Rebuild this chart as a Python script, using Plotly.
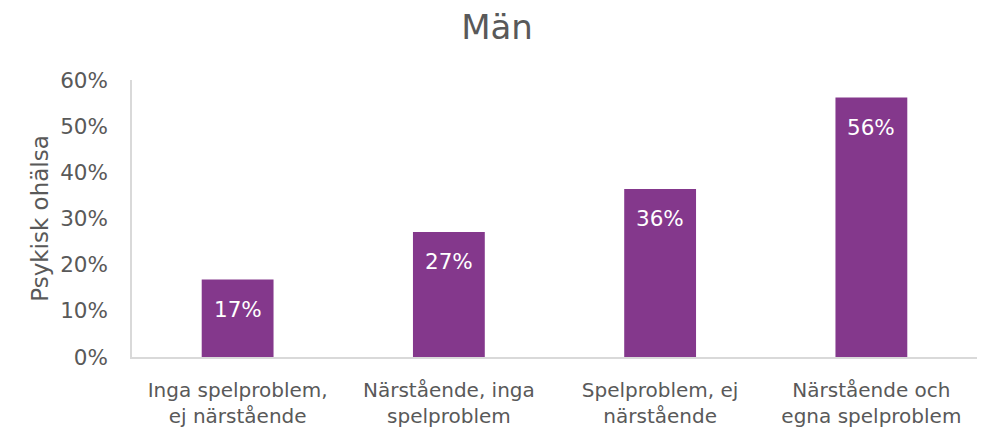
import plotly.graph_objects as go

categories = ["Inga spelproblem,<br>ej närstående", "Närstående, inga<br>spelproblem",
              "Spelproblem, ej<br>närstående", "Närstående och<br>egna spelproblem"]
values = [0.168, 0.271, 0.364, 0.562]
labels = ["17%", "27%", "36%", "56%"]
tick_vals = [0, 0.1, 0.2, 0.3, 0.4, 0.5, 0.6]
tick_text = ["0%", "10%", "20%", "30%", "40%", "50%", "60%"]

font = "DejaVu Sans, Verdana, sans-serif"
grey = "#595959"

fig = go.Figure(go.Bar(
    x=categories, y=values,
    marker=dict(color="#84388C", line=dict(width=0)),
    width=0.34, hoverinfo="skip",
))

for c, v, t in zip(categories, values, labels):
    fig.add_annotation(x=c, y=v, text=t, showarrow=False, yshift=-30,
                       yanchor="middle", xanchor="center",
                       font=dict(color="white", size=21.5, family=font))

# page body has an 8px margin; compensate so the plot lands where the reference has it
fig.update_layout(
    width=987, height=432,
    margin=dict(l=123.5, r=18, t=72, b=83),
    paper_bgcolor="white", plot_bgcolor="white",
    font=dict(family=font, color=grey),
    title=dict(text="Män", x=489 / 987, xanchor="center", y=1 - 19 / 432, yanchor="middle",
               font=dict(size=34, color=grey, family=font)),
    showlegend=False,
)
fig.update_xaxes(showline=True, linecolor="#D9D9D9", linewidth=1.5, ticks="",
                 automargin=False, ticklabelstandoff=14,
                 tickfont=dict(size=20, color=grey, family=font), showgrid=False)
fig.update_yaxes(range=[0, 0.6], tickvals=tick_vals, ticktext=tick_text,
                 showline=True, linecolor="#D9D9D9", linewidth=1.5, showgrid=False,
                 zeroline=False, ticks="", ticklabelstandoff=18, automargin=False,
                 tickfont=dict(size=21.5, color=grey, family=font),
                 title=dict(text="Psykisk ohälsa", font=dict(size=23, color=grey, family=font),
                            standoff=5))

fig.write_html("out.html")
